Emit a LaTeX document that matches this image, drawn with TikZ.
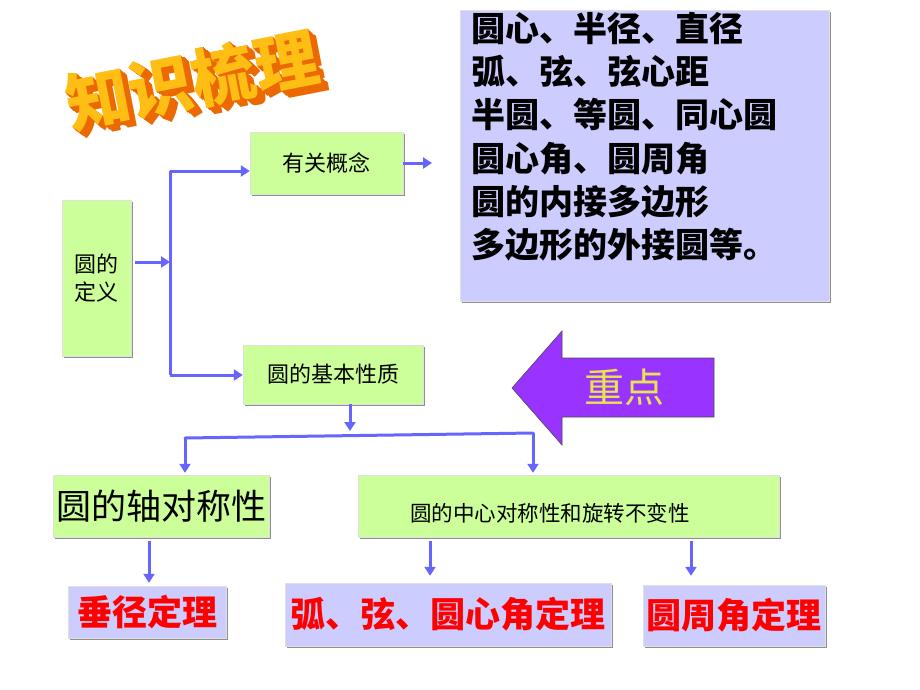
\documentclass[tikz,border=0pt]{standalone}
\usepackage{fontspec}
\setmainfont{Noto Sans CJK SC}
\usetikzlibrary{arrows.meta}
\usetikzlibrary{shadows}

\definecolor{boxgreen}{RGB}{204,255,153}
\definecolor{boxblue}{RGB}{204,204,255}
\definecolor{flowblue}{RGB}{102,102,255}
\definecolor{focuspurple}{RGB}{153,51,255}
\definecolor{focusyellow}{RGB}{232,228,80}
\definecolor{titleface}{RGB}{255,190,20}
\definecolor{titleside}{RGB}{236,104,0}

\tikzset{
  boxshadow/.style={drop shadow={shadow xshift=2pt,shadow yshift=-2pt,fill=black!55,opacity=0.8}},
  greenbox/.style={fill=boxgreen,draw=black!12,line width=0.4pt,inner sep=0pt,boxshadow},
  bluebox/.style={fill=boxblue,draw=black!12,line width=0.4pt,inner sep=0pt,boxshadow},
  flow/.style={draw=flowblue,line width=3pt,-{Triangle[length=9pt,width=11pt]}},
  flowbar/.style={draw=flowblue,line width=3pt},
  titletext/.style={rotate=11,inner sep=0pt,font=\fontsize{64}{64}\selectfont\bfseries},
}

\begin{document}
\begin{tikzpicture}[x=1pt,y=1pt,yscale=-1,xscale=1]
\useasboundingbox (0,0) rectangle (920,690);

% Title
\foreach \d in {7,6,...,1}
  \node [titletext,text=titleside] at (192+1.1*\d,80+0.9*\d) {知识梳理};
\node (title) [titletext,text=titleface] at (192,80) {知识梳理};

%Shape: Rectangle
\node (concept) [greenbox,minimum width=153pt,minimum height=62pt,font=\fontsize{22}{22}\selectfont] at (326.5,163) {有关概念};
\node (list) [bluebox,minimum width=369pt,minimum height=291pt] at (644.5,155.5) {};
\node (listtext) [anchor=north west,inner sep=0pt,align=left,font=\fontsize{34}{43.2}\selectfont\bfseries] at (471,12)
  {圆心、半径、直径\\弧、弦、弦心距\\半圆、等圆、同心圆\\圆心角、圆周角\\圆的内接多边形\\多边形的外接圆等。};
\node (define) [greenbox,minimum width=69pt,minimum height=156pt,align=center,font=\fontsize{22}{28}\selectfont] at (96.5,278) {圆的\\定义};
\node (basic) [greenbox,minimum width=180pt,minimum height=59pt,font=\fontsize{22}{22}\selectfont] at (333,374.5) {圆的基本性质};
\node (axial) [greenbox,minimum width=216pt,minimum height=62pt,font=\fontsize{35}{35}\selectfont] at (161,506) {圆的轴对称性};
\node (central) [greenbox,minimum width=421pt,minimum height=62pt] at (568.5,506) {};
\node (centraltext) [inner sep=0pt,font=\fontsize{21.5}{21.5}\selectfont] at (550,513) {圆的中心对称性和旋转不变性};
\node (perp) [bluebox,minimum width=158pt,minimum height=52pt,text=red,font=\fontsize{35}{35}\selectfont\bfseries] at (147,612) {垂径定理};
\node (arcthm) [bluebox,minimum width=326pt,minimum height=63pt,text=red,font=\fontsize{35}{35}\selectfont\bfseries] at (448,614.5) {弧、弦、圆心角定理};
\node (inscribed) [bluebox,minimum width=182pt,minimum height=61pt,text=red,font=\fontsize{35}{35}\selectfont\bfseries] at (734,615.5) {圆周角定理};

%Shape: Left Arrow
\draw [fill=focuspurple,draw=black!70,line width=0.6pt] (512,388) -- (562,331) -- (562,358) -- (714,358) -- (714,417) -- (562,417) -- (562,445) -- cycle;
\node (focus) [text=focusyellow,font=\fontsize{40}{40}\selectfont] at (624,387) {重点};

%Connectors
\coordinate (split) at (170,262);
\coordinate (upper) at (170,171);
\coordinate (lower) at (170,375);
\coordinate (concepttip) at (432,163);
\draw [flow,shorten <=4pt] (define.east |- split) -- (split);
\draw [flowbar] (upper) -- (lower);
\draw [flow] (upper) -- (concept.west |- upper);
\draw [flow] (lower) -- (basic.west |- lower);
\draw [flow] (concept.east) -- (concepttip);

\coordinate (barleft) at (185,438);
\coordinate (barright) at (533,433);
\coordinate (barmid) at (350,431);
\draw [flow] (basic.south -| barmid) -- (barmid);
\draw [flowbar,line cap=round] (barleft) -- (barright);
\draw [flow,shorten >=2pt] (barleft) -- (axial.north -| barleft);
\draw [flow,shorten >=2pt] (barright) -- (central.north -| barright);

\coordinate (perptop) at ([xshift=2pt]perp.north);
\coordinate (arctop) at ([xshift=-18pt]arcthm.north);
\coordinate (inscribedtop) at ([xshift=-43pt]inscribed.north);
\draw [flow,shorten <=4pt,shorten >=3pt] (perptop |- axial.south) -- (perptop);
\draw [flow,shorten <=4pt,shorten >=7pt] (arctop |- central.south) -- (arctop);
\draw [flow,shorten <=4pt,shorten >=9pt] (inscribedtop |- central.south) -- (inscribedtop);

\end{tikzpicture}
\end{document}
